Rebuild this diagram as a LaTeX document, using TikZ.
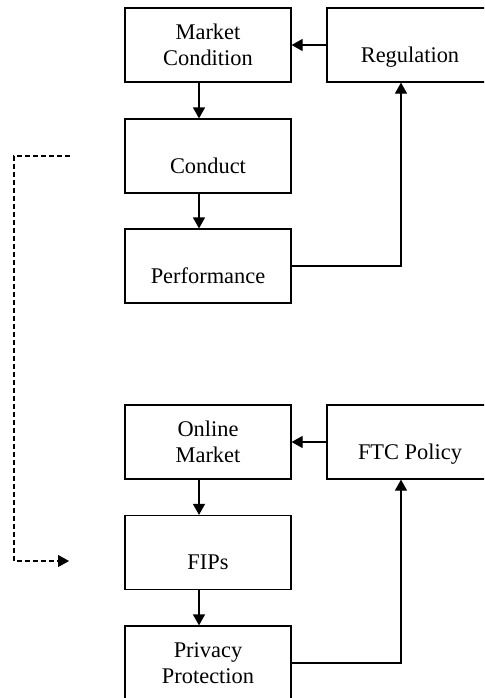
\documentclass[tikz,border=0pt]{standalone}
\usepackage{fontspec}
\setmainfont{Liberation Serif}
\usetikzlibrary{arrows.meta}

\begin{document}
\begin{tikzpicture}[x=0.5pt, y=-0.5pt, line width=0.6pt,
    font=\fontsize{11.2}{13}\selectfont,
    box/.style={draw, minimum width=83pt, minimum height=37pt, inner sep=0pt, align=center},
    lowbox/.style={box, text height=20pt, text depth=3pt},
    flow/.style={-{Triangle[length=5.5pt, width=6pt]}}]
      \useasboundingbox (0,0) rectangle (484,698);
      \clip (0,0) rectangle (484,698);
      % upper model
      \node[box] (mc) at (208,45) {Market\\Condition};
      \node[lowbox] (reg) at (410,45) {Regulation};
      \node[lowbox] (cond) at (208,156) {Conduct};
      \node[lowbox] (perf) at (208,266) {Performance};
      \draw[flow] (reg.west) -- (mc.east);
      \draw[flow] ([xshift=-4.5pt]mc.south) -- ([xshift=-4.5pt]cond.north);
      \draw[flow] ([xshift=-4.5pt]cond.south) -- ([xshift=-4.5pt]perf.north);
      \draw[flow] (perf.east) -| ([xshift=-4.5pt]reg.south);
      % lower model
      \node[box] (om) at (208,442) {Online\\Market};
      \node[lowbox] (ftc) at (410,442) {FTC Policy};
      \node[lowbox] (fips) at (208,552.5) {FIPs};
      \node[box] (pp) at (208,663) {Privacy\\Protection};
      \draw[flow] (ftc.west) -- (om.east);
      \draw[flow] ([xshift=-4.5pt]om.south) -- ([xshift=-4.5pt]fips.north);
      \draw[flow] ([xshift=-4.5pt]fips.south) -- ([xshift=-4.5pt]pp.north);
      \draw[flow] (pp.east) -| ([xshift=-4.5pt]ftc.south);
      % link between the two
      \coordinate (dstart) at (70,156);
      \coordinate (dend) at (69,561);
      \draw[flow, dash pattern=on 2.4pt off 1.6pt] (dstart) -- ++(-56,0) |- (dend);
\end{tikzpicture}
\end{document}
